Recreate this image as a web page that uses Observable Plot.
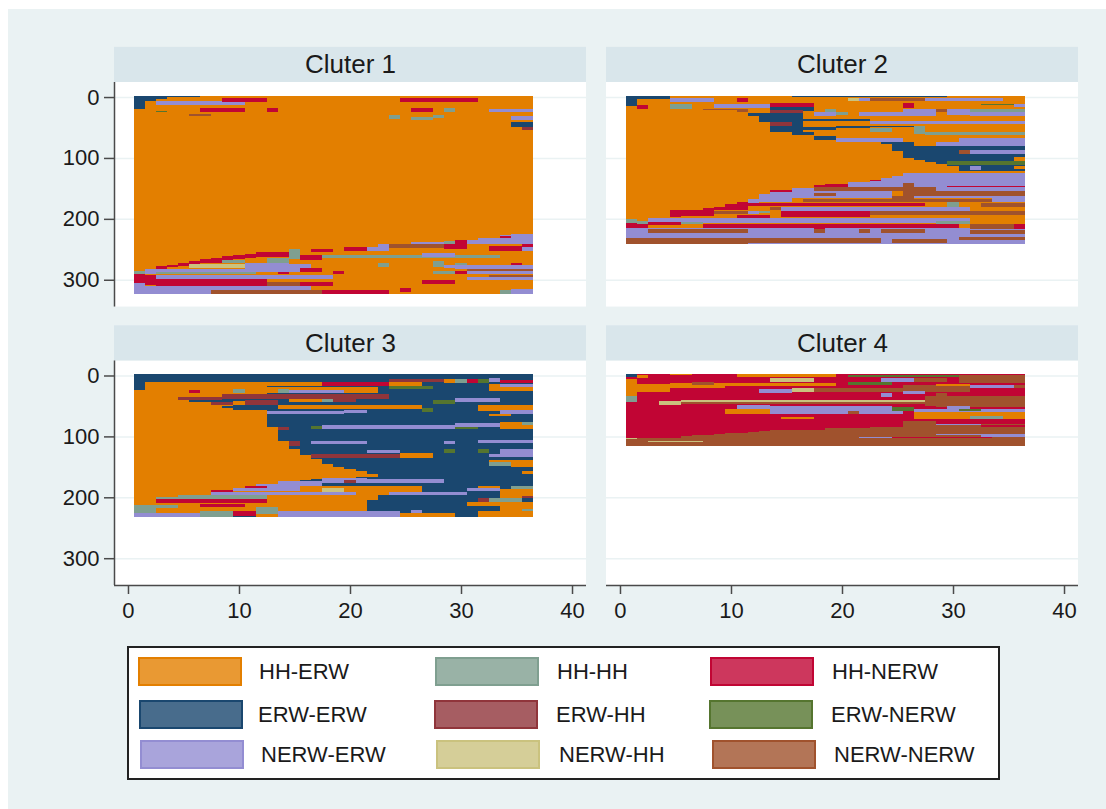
<!DOCTYPE html>
<html>
<head>
<meta charset="utf-8">
<script src="https://cdn.jsdelivr.net/npm/d3@7"></script>
<script src="https://cdn.jsdelivr.net/npm/@observablehq/plot@0.6"></script>
<style>
html,body{margin:0;padding:0;background:#fff;width:1106px;height:809px;overflow:hidden;font-family:"Liberation Sans",Arial,sans-serif}
#bg{position:absolute;left:8px;top:9px;width:1098px;height:800px;background:#eaf2f3}
#chart{position:absolute;left:0;top:0}
#legend{position:absolute;left:127px;top:646px;width:869px;height:130px;background:#fff;border:2px solid #222}
.sw{position:absolute;box-sizing:border-box;width:104px;height:29px;border:2px solid}
.lb{position:absolute;font-size:22px;line-height:29px;color:#1a1a1a;white-space:nowrap}
</style>
</head>
<body>
<div id="bg"></div>
<div id="chart"></div>
<div id="legend"></div>
<script>
// State labels and colours
const HE="HH-ERW",HH="HH-HH",HN="HH-NERW",EE="ERW-ERW",EH="ERW-HH",EN="ERW-NERW",NE="NERW-ERW",NH="NERW-HH",NN="NERW-NERW";
const states=[HE,HH,HN,EE,EH,EN,NE,NH,NN];
const colors=["#e37f00","#7f9f90","#c10534","#1a476f","#90353b","#55752f","#938dd2","#cac27e","#a0522d"];
const clusterNames=["Cluter 1","Cluter 2","Cluter 3","Cluter 4"];
const xTicks=[0,10,20,30,40];
const yTicks=[0,100,200,300];

// Spells: [state, first row, last row, first month, last month], later spells paint over earlier ones
const cluster1=[
[HE,-2,323,1,36],
[EE,-2,19,1,1],[EE,-2,7,2,2],[EE,-2,3,3,3],[EE,-2,0,4,6],[NE,6,13,3,10],[HN,2,8,9,12],[HN,18,24,7,10],[HN,18,24,13,13],
[EN,23,25,3,3],[NN,28,31,6,7],[HN,2,8,25,31],[HN,18,24,26,27],[HH,18,24,29,29],[NE,19,25,33,36],[NE,31,38,35,36],
[HH,29,36,24,24],[HH,32,38,26,27],[HH,29,35,28,28],[EE,41,50,35,36],[EH,50,54,36,36],
[NE,225,242,35,36],[NE,227,241,34,34],[NE,231,241,32,33],[NE,235,242,31,31],[HN,228,231,34,34],[HN,235,242,30,30],
[NE,238,242,26,28],[HH,236,242,29,29],[NN,242,248,24,28],[HN,242,249,29,30],[NE,242,253,23,23],[NE,246,252,22,22],
[HN,247,253,20,21],[HN,249,255,17,18],[HN,245,252,33,35],[HN,242,246,36,36],[NE,246,253,36,36],
[HH,250,266,15,15],[HN,254,263,12,14],[HN,257,264,11,11],[HN,259,266,10,10],[HN,261,268,9,9],[HN,264,272,8,8],
[HN,266,273,7,7],[HN,270,274,6,6],[HN,272,277,5,5],[HN,275,279,4,4],[HN,278,282,3,3],
[HN,260,267,16,17],[HH,259,265,18,33],[NE,256,263,27,29],[HH,264,273,13,14],[HH,268,272,9,10],
[NH,274,280,6,10],[NE,273,287,11,14],[NE,274,280,15,16],[NE,281,287,15,15],[HN,281,288,16,17],[HN,285,291,19,19],
[NE,283,291,2,11],[HH,287,291,3,11],[HH,285,290,1,1],[HN,288,291,14,14],[NE,293,299,3,18],
[HN,290,306,1,1],[HN,293,309,2,2],[HN,299,310,3,12],[NN,304,311,13,15],[HN,304,311,16,18],[HN,300,307,27,29],
[NE,306,323,1,1],[NE,310,323,2,7],[NE,311,316,8,16],[NN,316,323,8,17],[HN,317,323,18,23],[HN,313,320,25,25],
[HH,317,323,34,34],[NE,315,323,35,36],[HH,272,279,23,23],[HH,270,279,28,28],[NE,275,280,29,29],[HH,272,275,30,30],
[NE,275,282,30,36],[HN,272,275,35,35],[HH,285,291,28,29],[HN,285,291,30,30],[NE,286,291,31,36],[NN,282,286,31,36],
[NN,293,296,33,36],[NE,296,301,31,36]
];
const cluster2=[
[HE,-2,242,1,36],
[EE,-2,14,1,1],[EE,-2,3,2,4],[NE,1,8,5,8],[HN,2,8,11,11],[HN,13,19,2,2],[HH,12,19,5,6],[NE,11,18,9,13],[HN,9,17,14,17],
[EE,-2,0,16,29],[NH,1,7,21,21],[NE,1,7,22,22],[NN,1,7,23,27],[NE,1,7,28,34],[HN,9,18,26,26],[NE,11,17,36,36],[EN,11,13,33,35],
[NN,19,21,8,11],[NN,19,25,11,11],[EE,17,23,14,17],[EH,21,26,14,16],[NE,25,31,18,19],[HH,19,25,19,19],[HH,24,30,20,20],
[NE,25,31,22,28],[NE,19,25,26,28],[NN,19,25,29,29],[NE,19,30,30,31],[HH,20,25,32,36],[NE,25,31,32,36],
[EE,26,31,12,12],[EE,26,41,13,13],[EE,26,57,14,14],[EE,26,58,15,15],[EE,26,62,16,16],[EE,36,40,17,22],[EH,41,47,14,15],
[NE,39,45,23,36],[EE,49,54,17,19],[EE,48,51,20,22],[EE,47,49,23,26],[HH,51,57,23,24],[HH,48,60,27,27],[HH,57,63,28,36],
[EE,58,63,17,17],[EE,64,70,18,19],[NE,67,74,20,25],[EE,74,77,24,25],[NE,68,74,31,36],[NE,74,80,29,36],
[EE,75,89,25,25],[EE,73,100,26,26],[EE,80,104,27,27],[EE,80,107,28,28],[EE,80,110,29,29],[EE,80,114,30,30],[EE,80,122,31,36],
[NE,87,93,32,36],[NN,87,94,31,31],[HE,99,105,36,36],[EN,105,112,30,36],[HE,113,118,36,36],[NE,114,120,32,32],
[NE,124,147,31,36],[NE,125,147,26,30],[NE,129,148,25,25],[NE,133,148,24,24],[NE,136,148,23,23],[HN,136,138,23,23],
[NE,139,147,21,22],[HN,142,147,19,20],[HN,145,151,18,18],[NN,147,155,18,28],[NN,141,147,26,26],[NE,147,154,29,36],[HN,146,148,30,36],
[NE,150,165,16,17],[NE,155,173,14,15],[HN,153,156,14,15],[NE,160,173,13,13],[NE,155,166,18,24],[NN,157,163,18,19],
[NN,162,173,25,26],[NN,155,162,26,36],[NE,162,166,27,36],[NN,167,172,17,33],[NE,165,173,34,36],[NE,168,175,12,12],
[HN,173,186,11,11],[HN,176,186,10,10],[HN,180,186,9,9],[HN,182,187,8,8],[HN,186,195,5,8],[HN,191,197,5,5],[HN,174,179,12,27],
[HE,173,179,28,29],[HH,173,180,30,30],[NN,174,181,33,36],[NE,180,187,15,31],[NN,180,186,14,14],[NN,187,192,9,11],[NE,187,192,12,12],
[HH,187,191,13,13],[HN,187,197,15,22],[HN,193,198,11,13],[NN,187,194,23,36],[NE,198,206,3,31],[HH,200,206,1,1],[HN,206,218,1,1],
[HN,209,221,2,2],[HH,203,209,2,2],[HE,198,209,32,36],[HN,205,210,3,5],[HH,205,209,6,7],[NE,215,242,1,36],[HN,209,215,8,30],
[HH,203,209,29,31],[HN,215,221,18,18],[NN,209,216,32,35],[HN,209,216,36,36],[NN,217,223,3,11],[NN,217,223,18,18],[NN,217,223,22,22],
[NN,217,223,24,27],[NN,218,225,32,36],[NN,231,242,1,11],[NN,232,239,12,23],[NN,233,240,25,29],[NN,229,235,31,36]
];
const cluster3=[
[EE,-2,233,1,36],
[HE,24,226,1,1],[HE,11,226,2,2],[HE,10,226,3,12],[HE,10,18,13,17],[HE,19,29,13,22],[HE,181,204,13,22],[HE,204,223,13,21],
[EH,5,10,24,28],[HE,5,12,29,29],[HH,5,12,30,30],[HN,5,12,31,31],[EN,5,12,32,32],[NE,4,10,33,33],[HN,7,13,34,36],
[HN,10,18,18,23],[HE,11,18,24,26],[EN,17,22,24,27],[HE,14,25,33,36],[NE,14,19,34,36],
[HN,24,29,6,6],[HH,22,28,10,10],[HH,22,28,14,14],[NE,24,29,15,19],[HE,21,27,20,22],
[EE,30,49,9,13],[EH,30,39,9,23],[EH,35,40,5,8],[EE,41,44,6,8],[EH,44,49,8,9],[EE,49,57,10,12],[EE,50,54,9,9],[HE,42,48,10,10],[EH,41,48,11,13],
[HE,38,44,15,17],[HH,38,44,18,18],[EH,38,44,19,20],[HE,49,55,14,26],[EN,54,60,27,27],[EN,41,47,28,29],[NE,37,44,30,33],
[HE,49,59,32,36],[NE,57,63,34,36],[HE,63,67,33,34],[NE,58,64,13,19],[NE,56,62,20,21],
[HE,84,179,13,13],[HE,108,176,14,14],[HE,120,174,15,15],[HE,130,172,16,16],[HE,137,170,17,17],[HE,145,168,18,18],[HE,151,168,19,19],[HE,153,168,20,20],[HE,157,167,21,21],[HE,161,166,22,22],
[EH,84,89,14,14],[EN,83,88,17,17],[NE,82,88,18,29],[NE,78,85,30,33],[EN,85,88,30,31],[HE,76,88,34,36],[HH,76,82,36,36],
[EH,108,115,15,15],[NE,107,113,17,21],[NE,107,112,29,29],[NE,106,111,32,36],[NE,122,128,22,24],[EN,121,127,29,29],[EN,121,127,32,32],
[NE,120,129,34,36],[NE,129,134,33,36],[EH,129,135,17,24],[HE,128,135,25,27],[HE,139,150,35,36],[HH,142,149,33,34],[HE,139,142,33,34],[HE,156,162,36,36],
[NE,170,177,22,28],[NE,174,181,14,17],[NE,178,184,12,16],[HN,181,184,11,12],[NE,184,190,10,15],[HN,188,191,8,9],[NE,191,197,8,20],
[NE,168,177,18,21],[EH,171,176,20,20],[HE,181,190,16,26],[NH,185,191,18,19],[HE,190,197,21,26],[HE,191,197,21,23],[NE,191,197,24,30],
[HH,197,204,5,12],[HH,199,204,3,4],[HN,203,210,3,12],[HN,202,208,7,12],[HN,211,216,7,10],[HH,212,225,1,2],[HH,213,218,3,4],
[HH,216,228,12,13],[NE,225,233,1,6],[HH,223,233,7,9],[HN,223,230,10,11],[HE,228,233,12,15],[NE,223,233,14,24],[HE,226,233,25,29],[NE,221,226,26,26],
[NE,184,189,31,33],[HE,181,184,32,33],[HH,181,187,35,36],[HE,187,201,34,36],[EH,201,207,32,32],[HH,201,207,33,35],[EH,198,201,36,36],[NE,207,213,36,36],
[HE,208,214,31,33],[HE,207,226,34,36],[HH,220,226,36,36],[HE,223,233,32,36]
];
const cluster4=[
[HN,-2,116,1,36],
[EE,-2,3,1,1],[HE,0,4,2,2],[HE,-2,0,5,6],[HE,-2,2,11,19],[EN,-1,3,21,30],[NN,0,12,31,36],
[NH,4,11,14,17],[NE,4,10,24,26],[NN,4,11,27,29],[EN,11,16,21,24],[NN,16,21,26,36],
[HE,5,33,1,1],[HE,14,27,2,4],[HE,12,21,5,9],[HE,13,17,10,19],[NN,11,15,7,8],
[NE,22,28,13,15],[NH,21,27,16,17],[NN,21,27,18,31],[NE,15,21,32,35],[HE,14,17,29,31],
[HH,33,44,1,1],[NH,42,48,4,5],[NN,43,46,6,27],[NH,40,43,6,27],[HE,43,44,8,12],
[NE,28,36,24,24],[NE,26,30,26,27],[NN,28,38,29,29],[HN,27,34,30,36],[NN,34,52,28,36],
[NE,49,55,11,13],[NE,50,64,14,25],[HE,55,63,10,13],[NN,59,64,21,21],[HN,50,55,25,28],[EN,52,58,25,26],[HE,60,71,27,36],[NE,55,60,27,36],[NE,50,59,30,31],[EN,55,59,31,32],
[HH,66,71,32,34],[HE,68,72,15,17],
[NN,104,116,1,1],[NN,103,116,2,5],[NN,99,116,6,6],[NN,98,116,7,7],[NN,97,116,8,8],[NN,96,116,9,9],[NN,95,116,10,10],[NN,94,116,11,11],[NN,93,116,12,12],[NN,91,116,13,13],[NN,90,116,14,14],[NN,89,116,15,18],[NN,87,116,19,22],[NN,85,116,23,25],
[NN,71,116,26,36],[HN,71,74,26,28],[HN,72,79,29,36],[NE,79,82,29,32],[HN,82,85,33,36],[NE,96,98,29,36],[NE,97,101,33,36],[HN,101,103,25,33],[NE,101,103,22,24],
[NH,107,110,3,7],[NH,102,104,1,1]
];
const clusters=[cluster1,cluster2,cluster3,cluster4];

const spells=clusters.flatMap((rows,c)=>rows.map(([state,r1,r2,t1,t2])=>({state,r1,r2,t1:t1-0.5,t2:t2+0.5,col:c%2,row:c>1?1:0})));
const panels=clusterNames.map((name,c)=>({name,col:c%2,row:c>1?1:0}));
const xMin=-1.26,xMax=41.26,yMin=-24.7,yMax=344,bandTop=-82.4;

const ink="#4a4a4a";
const chart=Plot.plot({
  width:1106,height:640,marginLeft:114,marginRight:28,marginTop:82,marginBottom:55,
  style:{background:"transparent",fontFamily:"'Liberation Sans',Arial,sans-serif",fontSize:"22px"},
  x:{domain:[xMin,xMax],label:null},
  y:{domain:[yMax,yMin],label:null},
  fx:{domain:[0,1],paddingInner:20/492,paddingOuter:0,round:false,axis:null,label:null},
  fy:{domain:[0,1],paddingInner:54/279,paddingOuter:0,round:false,axis:null,label:null},
  color:{domain:states,range:colors},
  marks:[
    Plot.rect(panels,{x1:xMin,x2:xMax,y1:yMin,y2:yMax,fill:"#fff",fx:"col",fy:"row"}),
    Plot.rect(panels,{x1:xMin,x2:xMax,y1:bandTop,y2:yMin,fill:"#d9e6eb",fx:"col",fy:"row"}),
    Plot.text(panels,{x:(xMin+xMax)/2,y:(bandTop+yMin)/2,text:"name",fx:"col",fy:"row",fontSize:26,fill:"#1a1a1a"}),
    Plot.gridY(yTicks,{stroke:"#eaf2f3",strokeOpacity:1,strokeWidth:1.5}),
    Plot.rect(spells,{x1:"t1",x2:"t2",y1:"r1",y2:"r2",fill:"state",fx:"col",fy:"row",shapeRendering:"crispEdges",imageFilter:"blur(0.5px)"}),
    Plot.ruleX(panels.filter(p=>p.col===0),{x:xMin,y1:yMin,y2:yMax,stroke:ink,strokeWidth:1.5,fx:"col",fy:"row"}),
    Plot.ruleY(panels.filter(p=>p.row===1),{y:yMax,x1:xMin,x2:xMax,stroke:ink,strokeWidth:1.5,fx:"col",fy:"row"}),
    Plot.axisY(yTicks,{anchor:"left",tickSize:10,tickPadding:5,fontSize:22,stroke:ink,strokeWidth:1.5,fill:"#1a1a1a",label:null}),
    Plot.axisX(xTicks,{anchor:"bottom",tickSize:9,tickPadding:8,fontSize:22,stroke:ink,strokeWidth:1.5,fill:"#1a1a1a",label:null})
  ]
});
document.getElementById("chart").appendChild(chart);

// Legend
const legendSwatchX=[[9,306,581],[10,305,580],[11,307,583]];
const legendLabelX=[[130,428,703],[129,427,702],[132,430,705]];
const legendY=[9,52,92];
const legend=document.getElementById("legend");
states.forEach((s,i)=>{
  const r=Math.floor(i/3),c=i%3;
  const sw=document.createElement("div");
  sw.className="sw";
  sw.style.left=legendSwatchX[r][c]+"px";
  sw.style.top=legendY[r]+"px";
  sw.style.borderColor=colors[i];
  sw.style.background=d3.color(colors[i]).copy({opacity:.8}).toString();
  legend.appendChild(sw);
  const lb=document.createElement("div");
  lb.className="lb";
  lb.textContent=s;
  lb.style.left=legendLabelX[r][c]+"px";
  lb.style.top=legendY[r]+"px";
  legend.appendChild(lb);
});
</script>
</body>
</html>
